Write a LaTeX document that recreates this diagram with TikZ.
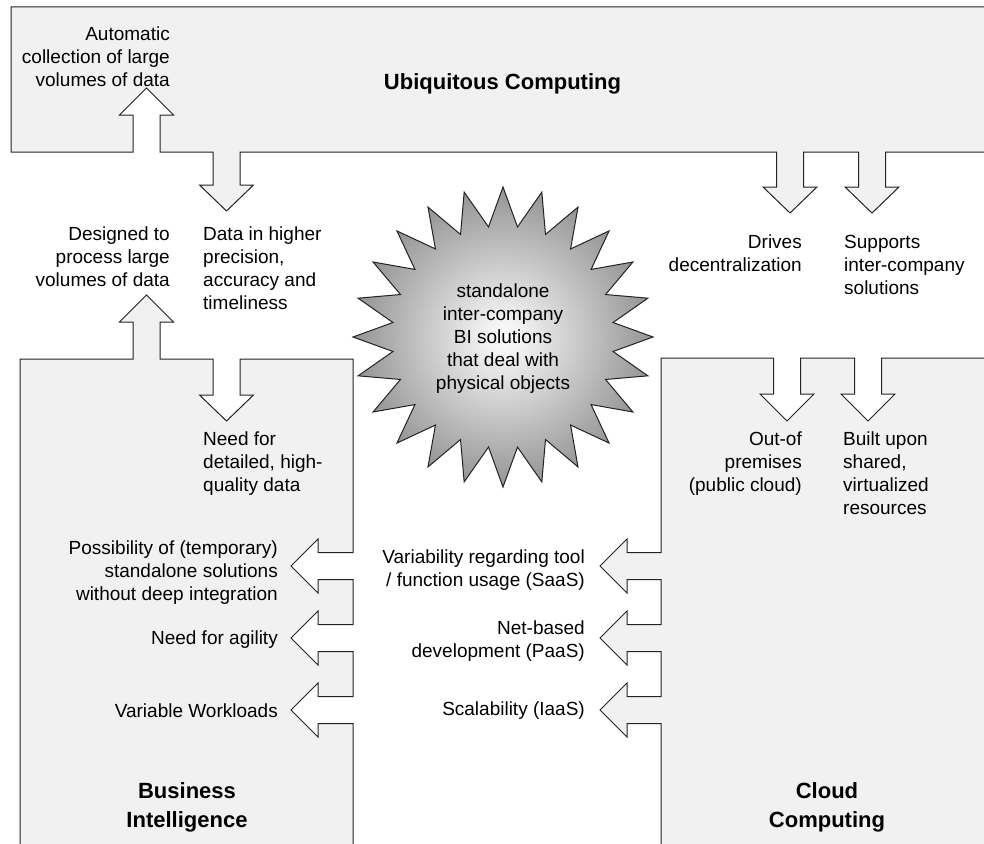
\documentclass[tikz,border=0pt]{standalone}
\usepackage{fontspec}
\setmainfont{Liberation Sans}
\definecolor{boxfill}{RGB}{241,241,241}
\definecolor{edge}{RGB}{35,35,35}
\tikzset{
  area/.style={fill=boxfill, draw=edge, line width=1pt, line join=miter},
  lbl/.style={inner sep=0pt, font=\fontsize{19}{23}\selectfont, text=black},
  lblr/.style={lbl, align=right, anchor=base east},
  lbll/.style={lbl, align=left, anchor=base west},
  title/.style={inner sep=0pt, font=\fontsize{22}{29}\selectfont\bfseries, align=center, anchor=base},
  burst/.style={draw=edge, line width=1pt, shading=radial, inner color=white, outer color=black!42}
}
\begin{document}
\begin{tikzpicture}[x=1pt,y=-1pt]
\useasboundingbox (0,0) rectangle (984,843);
\fill[white] (0,0) rectangle (984,843);
\clip (0,0) rectangle (984,843);

% Ubiquitous Computing area
\path[area] (11,7) -- (1000,7) -- (1000,152)
  -- (885.5,152) -- (885.5,187) -- (899,187) -- (872,213) -- (845,187) -- (858.5,187) -- (858.5,152)
  -- (803.5,152) -- (803.5,187) -- (817,187) -- (790,213) -- (763,187) -- (776.5,187) -- (776.5,152)
  -- (240,152) -- (240,185) -- (253.5,185) -- (226.5,211) -- (199.5,185) -- (213,185) -- (213,152)
  -- (160,152) -- (160,115) -- (173.5,115) -- (146.5,88) -- (119.5,115) -- (133,115) -- (133,152)
  -- (11,152) -- cycle;

% Business Intelligence area
\path[area] (20,900) -- (20,359) -- (133,359)
  -- (133,322) -- (119.5,322) -- (146.5,295) -- (173.5,322) -- (160,322) -- (160,359)
  -- (213,359) -- (213,395) -- (199.5,395) -- (226.5,421) -- (253.5,395) -- (240,395) -- (240,359)
  -- (353,359)
  -- (353,552.5) -- (318,552.5) -- (318,539) -- (291,566) -- (318,593) -- (318,579.5) -- (353,579.5)
  -- (353,624.5) -- (318,624.5) -- (318,611) -- (291,638) -- (318,665) -- (318,651.5) -- (353,651.5)
  -- (353,696.5) -- (318,696.5) -- (318,683) -- (291,710) -- (318,737) -- (318,723.5) -- (353,723.5)
  -- (353,900) -- cycle;

% Cloud Computing area
\path[area] (1000,900) -- (661,900)
  -- (661,723.5) -- (627,723.5) -- (627,737) -- (600,710) -- (627,683) -- (627,696.5) -- (661,696.5)
  -- (661,651.5) -- (627,651.5) -- (627,665) -- (600,638) -- (627,611) -- (627,624.5) -- (661,624.5)
  -- (661,579.5) -- (627,579.5) -- (627,593) -- (600,566) -- (627,539) -- (627,552.5) -- (661,552.5)
  -- (661,358)
  -- (773.5,358) -- (773.5,394) -- (760,394) -- (787,421) -- (814,394) -- (800.5,394) -- (800.5,358)
  -- (854.5,358) -- (854.5,394) -- (841,394) -- (868,421) -- (895,394) -- (881.5,394) -- (881.5,358)
  -- (1000,358) -- cycle;

% starburst
\path[burst] (503,187)
  \foreach \i [evaluate=\i as \r using {mod(\i,2)==0 ? 150 : 111}] in {1,...,47} {
    -- ({503+\r*cos(90+7.5*\i)},{337-\r*sin(90+7.5*\i)})
  } -- cycle;

% titles (anchor = baseline of last line)
\node[title] (uc) at (502.5,89) {Ubiquitous Computing};
\node[title] (bi) at (187,827) {Business\\Intelligence};
\node[title] (cc) at (827,827) {Cloud\\Computing};

% labels (anchor = baseline of last line)
\node[lblr] (auto) at (170,86) {Automatic\\collection of large\\volumes of data};
\node[lblr] (design) at (170,286) {Designed to\\process large\\volumes of data};
\node[lbll] (prec) at (203,309) {Data in higher\\precision,\\accuracy and\\timeliness};
\node[lbll] (need) at (203,491) {Need for\\detailed, high-\\quality data};
\node[lblr] (poss) at (278,600) {Possibility of (temporary)\\standalone solutions\\without deep integration};
\node[lblr] (agil) at (278,644) {Need for agility};
\node[lblr] (work) at (278,717) {Variable Workloads};
\node[lbl, align=center, anchor=base] (core) at (503,389) {standalone\\inter-company\\BI solutions\\that deal with\\physical objects};
\node[lblr] (drv) at (802,271) {Drives\\decentralization};
\node[lbll] (sup) at (844,294) {Supports\\inter-company\\solutions};
\node[lblr] (oop) at (802,491) {Out-of\\premises\\(public cloud)};
\node[lbll] (blt) at (843,514) {Built upon\\shared,\\virtualized\\resources};
\node[lblr] (saas) at (585,586) {Variability regarding tool\\/ function usage (SaaS)};
\node[lblr] (paas) at (585,657) {Net-based\\development (PaaS)};
\node[lblr] (iaas) at (585,715) {Scalability (IaaS)};
\end{tikzpicture}
\end{document}
